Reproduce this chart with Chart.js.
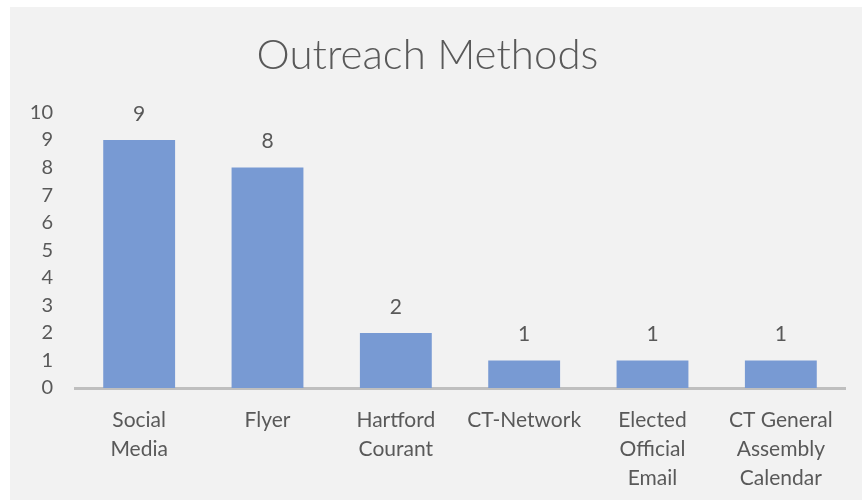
<!DOCTYPE html>
<html>
<head>
<meta charset="utf-8">
<script src="https://cdn.jsdelivr.net/npm/chart.js@4"></script>
<style>
  body { margin: 0; background: #ffffff; }
  #wrap { position: absolute; left: 10px; top: 7px; width: 852px; height: 493px; background: #f2f2f2; }
</style>
</head>
<body>
<div id="wrap"><canvas id="myChart"></canvas></div>
<script>
// chart data
const categories = [
  ['Social', 'Media'],
  'Flyer',
  ['Hartford', 'Courant'],
  'CT-Network',
  ['Elected', 'Official', 'Email'],
  ['CT General', 'Assembly', 'Calendar']
];
const counts = [9, 8, 2, 1, 1, 1];
const yTicks = [0, 1, 2, 3, 4, 5, 6, 7, 8, 9, 10];

const textColor = '#595959';
const fontFamily = 'Lato, "Open Sans", sans-serif';

// draws the value above each bar
const valueLabels = {
  id: 'valueLabels',
  afterDatasetsDraw(chart) {
    const ctx = chart.ctx;
    const meta = chart.getDatasetMeta(0);
    ctx.save();
    ctx.fillStyle = textColor;
    ctx.font = '21px ' + fontFamily;
    ctx.textAlign = 'center';
    ctx.textBaseline = 'middle';
    meta.data.forEach(function(bar, i) {
      ctx.fillText(String(counts[i]), bar.x, bar.y - 26);
    });
    ctx.restore();
  }
};

window.onload = function() {
  const data = {
    labels: categories,
    datasets: [{
      data: counts,
      backgroundColor: 'rgb(120, 154, 211)',
      borderWidth: 0,
      barPercentage: 0.56,
      categoryPercentage: 1.0
    }]
  };

  const config = {
    type: 'bar',
    data: data,
    plugins: [valueLabels],
    options: {
      responsive: true,
      maintainAspectRatio: false,
      animation: false,
      layout: { padding: { left: 0, right: 17, top: 0, bottom: 0 } },
      plugins: {
        legend: { display: false },
        tooltip: { enabled: false },
        title: {
          display: true,
          text: 'Outreach Methods',
          color: textColor,
          font: { family: fontFamily, size: 42, weight: '300' },
          padding: { top: 23, bottom: 32 }
        }
      },
      scales: {
        y: {
          min: 0,
          max: 10,
          afterBuildTicks(scale) {
            scale.ticks = yTicks.map(v => ({ value: v }));
          },
          afterFit(scale) { scale.width = 65; },
          grid: { display: false, drawTicks: false },
          border: { display: false },
          ticks: {
            color: textColor,
            font: { family: fontFamily, size: 20 },
            padding: 22
          }
        },
        x: {
          grid: { display: false, drawTicks: false },
          border: { display: true, color: '#bfbfbf', width: 3 },
          afterFit(scale) { scale.height = 112; },
          ticks: {
            color: textColor,
            font: { family: fontFamily, size: 21, lineHeight: 1.38 },
            padding: 18,
            maxRotation: 0,
            autoSkip: false
          }
        }
      }
    }
  };

  const ctx = document.getElementById('myChart').getContext('2d');
  new Chart(ctx, config);
};
</script>
</body>
</html>
